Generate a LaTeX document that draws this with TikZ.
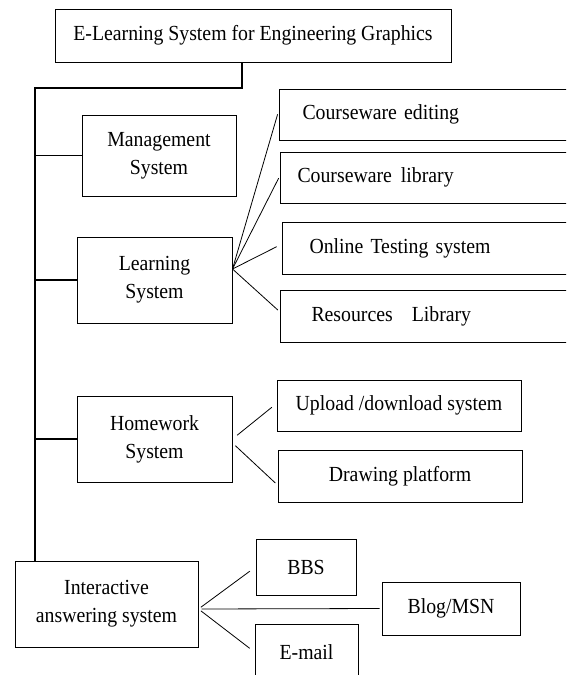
\documentclass[tikz,border=0pt]{standalone}
\usepackage{fontspec}
\setmainfont{Liberation Serif}[FakeStretch=0.92]
\usetikzlibrary{positioning}

\begin{document}
\begin{tikzpicture}[x=1pt, y=-1pt,
    every node/.style={font=\fontsize{21.5}{28}\selectfont},
    box/.style={draw, line width=1pt, rectangle, align=center, inner sep=0pt},
    part/.style={draw, line width=1pt, rectangle, anchor=west, align=left, text width=260pt, minimum height=51pt, inner ysep=0pt},
    trunk/.style={line width=1.6pt},
    twig/.style={line width=0.8pt}]
    \useasboundingbox (0,0) rectangle (566,675);
    \clip (0,0) rectangle (566,675);
    \node (title) [box, minimum width=396pt, minimum height=53pt] at (253,35.5) {E-Learning System for Engineering Graphics};
    \node (manage) [box, minimum width=154pt, minimum height=81pt] at (159,155.5) {Management\\System};
    \node (learn) [box, minimum width=155pt, minimum height=86pt] at (154.5,280) {Learning\\System};
    \node (homework) [box, minimum width=155pt, minimum height=86pt] at (154.5,439) {Homework\\System};
    \node (answer) [box, minimum width=183pt, minimum height=86pt] at (106.5,604) {Interactive\\answering system};
    % parts of the learning system
    \node (edit) [part, inner xsep=23pt] at (279,114.5) {Courseware editing};
    \node (library) [part, inner xsep=17pt] at (280,177.5) {Courseware\hspace{9pt}library};
    \node (testing) [part, inner xsep=27pt, minimum height=52pt] at (282,248) {Online Testing system};
    \node (resources) [part, inner xsep=31pt, minimum height=52pt] at (280,316) {Resources\hspace{19pt}Library};
    % parts of the homework system
    \node (upload) [box, minimum width=244pt, minimum height=51pt] at (399,405.5) {Upload /download system};
    \node (drawing) [box, minimum width=244pt, minimum height=52pt] at (400,476) {Drawing platform};
    % parts of the answering system
    \node (bbs) [box, minimum width=100pt, minimum height=56pt] at (306,567) {BBS};
    \node (blog) [box, minimum width=138pt, minimum height=53pt] at (451,608.5) {Blog/MSN};
    \node (email) [box, minimum width=103pt, minimum height=56pt] at (306.5,652) {E-mail};
    % main tree
    \coordinate (top) at (35,88);
    \draw [trunk] ([xshift=-11pt]title.south) |- (top) -- (top |- answer.north);
    \draw [trunk] (top |- manage.west) -- (manage.west);
    \draw [trunk] (top |- learn.west) -- (learn.west);
    \draw [trunk] (top |- homework.west) -- (homework.west);
    % branches
    \draw [twig, shorten >=5pt] ([yshift=11pt]learn.east) -- ([yshift=5pt]edit.west);
    \draw [twig, shorten >=3pt] ([yshift=11pt]learn.east) -- ([yshift=2pt]library.west);
    \draw [twig, shorten >=6pt] ([yshift=11pt]learn.east) -- ([yshift=4pt]testing.west);
    \draw [twig, shorten >=3pt] ([yshift=11pt]learn.east) -- ([yshift=4pt]resources.west);
    \draw [twig, shorten <=6pt, shorten >=6pt] (homework.east) -- ([yshift=2pt]upload.west);
    \draw [twig, shorten <=4pt, shorten >=3pt] ([yshift=-4pt]homework.east) -- ([yshift=-9pt]drawing.west);
    \draw [twig, shorten <=3pt, shorten >=7pt] ([yshift=-5pt]answer.east) -- (bbs.west);
    \draw [twig, shorten <=3pt, shorten >=2pt] ([yshift=-5pt]answer.east) -- (blog.west);
    \draw [twig, shorten <=3pt, shorten >=6pt] ([yshift=-5pt]answer.east) -- (email.west);
\end{tikzpicture}
\end{document}
